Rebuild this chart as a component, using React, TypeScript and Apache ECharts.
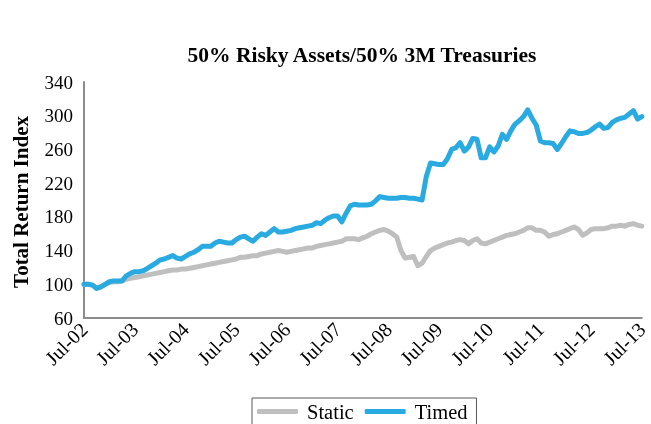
import React, { useEffect, useRef } from 'react';
import * as echarts from 'echarts';

const MONTHS = ['Jan', 'Feb', 'Mar', 'Apr', 'May', 'Jun', 'Jul', 'Aug', 'Sep', 'Oct', 'Nov', 'Dec'];
// Monthly categories Jul-02 .. Jul-13
const categories: string[] = [];
for (let i = 0; i <= 132; i++) {
  const mi = (6 + i) % 12;
  const yr = 2002 + Math.floor((6 + i) / 12);
  categories.push(`${MONTHS[mi]}-${String(yr % 100).padStart(2, '0')}`);
}

const titleText = '50% Risky Assets/50% 3M Treasuries';
const yAxisTitle = 'Total Return Index';
const seriesNames = ['Static', 'Timed'];

const staticValues = [
  100, 100, 99, 96, 97, 100, 102, 103, 103, 104,
  106, 107, 108, 109, 110, 111, 112, 113, 114, 115,
  116, 117, 117, 118, 118, 119, 120, 121, 122, 123,
  124, 125, 126, 127, 128, 129, 130, 132, 132, 133,
  134, 134, 136, 137, 138, 139, 140, 139, 138, 139,
  140, 141, 142, 143, 143, 145, 146, 147, 148, 149,
  150, 151, 154, 154, 154, 153, 155, 157, 160, 162,
  164, 165, 163, 160, 156, 140, 131, 132, 133, 122,
  125, 133, 140, 143, 145, 147, 149, 150, 152, 153,
  152, 148, 152, 154, 149, 148, 150, 152, 154, 156,
  158, 159, 160, 162, 164, 167, 167, 164, 164, 162,
  157, 159, 160, 162, 164, 166, 168, 165, 158, 161,
  165, 166, 166, 166, 167, 169, 169, 170, 169, 171,
  172, 170, 169,
];

const timedValues = [
  100, 100, 99, 95, 97, 100, 103, 104, 104, 104,
  110, 113, 115, 115, 116, 119, 122, 125, 129, 130,
  132, 134, 131, 130, 133, 136, 138, 141, 145, 145,
  145, 149, 151, 150, 149, 149, 153, 156, 157, 154,
  151, 156, 160, 158, 162, 166, 162, 162, 163, 164,
  166, 167, 168, 169, 170, 173, 172, 176, 179, 181,
  181, 174, 184, 193, 195, 194, 194, 194, 195, 199,
  204, 203, 202, 202, 202, 203, 203, 202, 202, 201,
  200, 228, 244, 243, 242, 242, 249, 260, 262, 268,
  258, 263, 273, 272, 250, 250, 263, 257, 264, 278,
  272, 282, 290, 294, 299, 307, 297, 289, 270, 268,
  268, 267, 260, 267, 275, 282, 281, 279, 279, 280,
  283, 287, 290, 285, 286, 292, 295, 297, 298, 302,
  306, 296, 299,
];

const FONT = '"Liberation Serif", "Times New Roman", serif';

export default function App() {
  const ref = useRef<HTMLDivElement>(null);
  useEffect(() => {
    const chart = echarts.init(ref.current!, null, { renderer: 'svg' });
    chart.setOption({
      animation: false,
      textStyle: { fontFamily: FONT },
      graphic: [
        {
          type: 'text',
          x: 362,
          y: 55,
          style: {
            text: titleText,
            align: 'center',
            verticalAlign: 'middle',
            fontSize: 21.5,
            fontWeight: 'bold',
            fontFamily: FONT,
            fill: '#000',
          },
        },
        {
          type: 'text',
          x: 21,
          y: 202,
          rotation: Math.PI / 2,
          style: {
            text: yAxisTitle,
            align: 'center',
            verticalAlign: 'middle',
            fontSize: 21,
            fontWeight: 'bold',
            fontFamily: FONT,
            fill: '#000',
          },
        },
      ],
      legend: {
        data: seriesNames,
        left: 252,
        top: 398,
        itemWidth: 41,
        itemHeight: 5,
        itemGap: 11,
        icon: 'roundRect',
        borderColor: '#595959',
        borderWidth: 1,
        borderRadius: 0,
        padding: [3, 9, 8, 5],
        textStyle: { fontSize: 20.5, color: '#000', fontFamily: FONT, padding: [0, 0, 0, 4] },
      },
      grid: { left: 84, right: 6, top: 82, bottom: 106, containLabel: false },
      xAxis: {
        type: 'category',
        data: categories,
        boundaryGap: false,
        axisLine: { show: true, lineStyle: { color: '#8c8c8c', width: 2 } },
        axisTick: { show: false },
        splitLine: { show: false },
        axisLabel: {
          interval: (_i: number, v: string) => v.startsWith('Jul'),
          rotate: 45,
          fontSize: 20,
          color: '#000',
          fontFamily: FONT,
          margin: 8,
        },
      },
      yAxis: {
        type: 'value',
        min: 60,
        max: 340,
        interval: 40,
        axisLine: { show: true, lineStyle: { color: '#8c8c8c', width: 2 } },
        axisTick: { show: false },
        splitLine: { show: false },
        axisLabel: { fontSize: 19, color: '#000', fontFamily: FONT, margin: 11 },
      },
      series: [
        {
          name: seriesNames[0],
          type: 'line',
          data: staticValues,
          showSymbol: false,
          symbol: 'none',
          lineStyle: { color: '#BFBFBF', width: 5, cap: 'round', join: 'round' },
          itemStyle: { color: '#BFBFBF' },
        },
        {
          name: seriesNames[1],
          type: 'line',
          data: timedValues,
          showSymbol: false,
          symbol: 'none',
          lineStyle: { color: '#29ABE2', width: 5, cap: 'round', join: 'round' },
          itemStyle: { color: '#29ABE2' },
        },
      ],
    });
    return () => chart.dispose();
  }, []);
  return <div ref={ref} style={{ position: 'fixed', left: 0, top: 0, width: 651, height: 424 }} />;
}
